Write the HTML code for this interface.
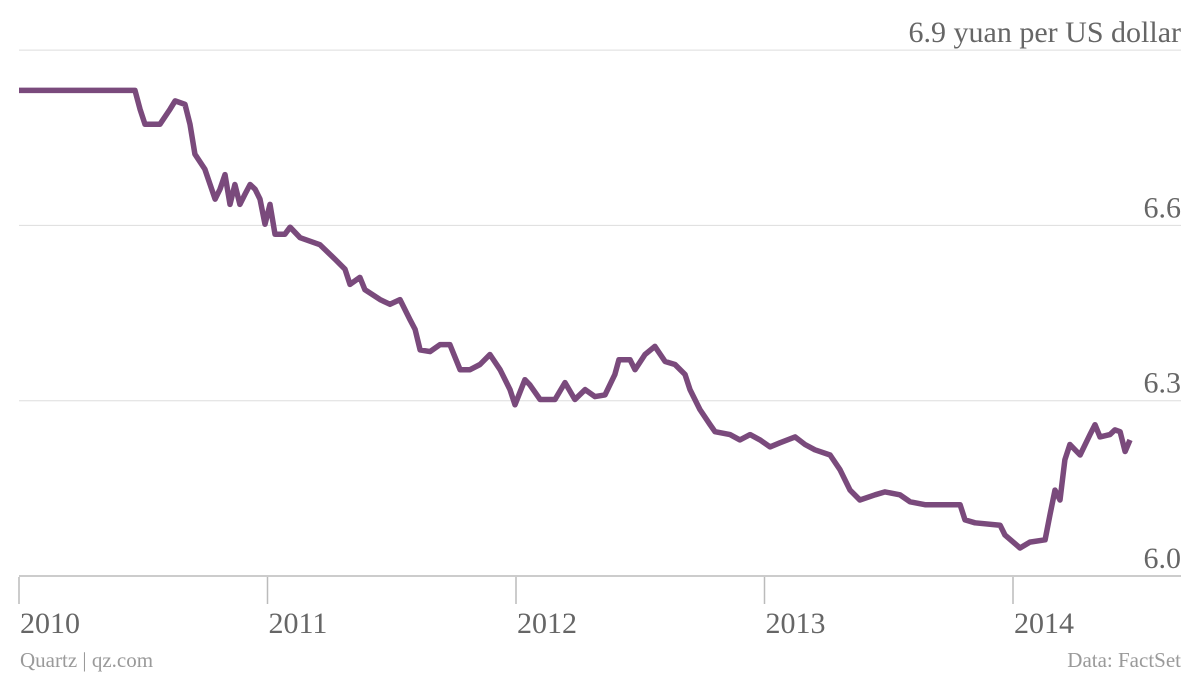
<!DOCTYPE html>
<html><head><meta charset="utf-8"><style>
body{margin:0;background:#fff;}
svg text{font-family:"Liberation Serif",serif;}
</style></head><body>
<svg width="1200" height="676" id="chart">
<g id="grid"></g><g id="xaxis"></g><path id="line" fill="none" stroke="#7a4a7c" stroke-width="5.5" stroke-linejoin="round"/>
<text x="20" y="667" font-size="21" fill="#9a9a9a">Quartz | qz.com</text>
<text x="1181" y="667" font-size="21" fill="#9a9a9a" text-anchor="end">Data: FactSet</text>
</svg>
<script>
const dates=[2010.0,2010.467,2010.487,2010.507,2010.567,2010.608,2010.628,2010.668,2010.688,2010.708,2010.748,2010.769,2010.789,2010.809,2010.829,2010.849,2010.869,2010.889,2010.909,2010.930,2010.950,2010.970,2010.990,2011.010,2011.030,2011.070,2011.091,2011.131,2011.171,2011.211,2011.272,2011.312,2011.332,2011.372,2011.392,2011.453,2011.493,2011.533,2011.573,2011.594,2011.614,2011.654,2011.694,2011.734,2011.775,2011.815,2011.855,2011.895,2011.936,2011.976,2011.996,2012.036,2012.056,2012.097,2012.157,2012.197,2012.237,2012.278,2012.318,2012.358,2012.398,2012.414,2012.459,2012.479,2012.519,2012.559,2012.600,2012.640,2012.680,2012.700,2012.740,2012.781,2012.801,2012.861,2012.901,2012.942,2012.982,2013.022,2013.062,2013.123,2013.163,2013.203,2013.264,2013.304,2013.344,2013.384,2013.445,2013.485,2013.545,2013.586,2013.646,2013.787,2013.807,2013.847,2013.948,2013.968,2014.028,2014.068,2014.129,2014.149,2014.169,2014.189,2014.209,2014.229,2014.270,2014.310,2014.330,2014.350,2014.390,2014.410,2014.431,2014.451,2014.471];
const rates=[6.831,6.831,6.799,6.773,6.773,6.799,6.813,6.807,6.773,6.722,6.696,6.670,6.645,6.662,6.687,6.636,6.670,6.636,6.653,6.670,6.662,6.645,6.602,6.636,6.585,6.585,6.597,6.579,6.573,6.567,6.542,6.525,6.499,6.511,6.490,6.473,6.465,6.473,6.439,6.422,6.387,6.384,6.396,6.396,6.353,6.353,6.362,6.379,6.353,6.319,6.293,6.336,6.327,6.302,6.302,6.331,6.302,6.319,6.307,6.310,6.345,6.370,6.370,6.353,6.379,6.393,6.367,6.362,6.345,6.319,6.285,6.259,6.247,6.242,6.233,6.242,6.233,6.221,6.228,6.238,6.225,6.216,6.207,6.182,6.147,6.130,6.139,6.144,6.139,6.127,6.122,6.122,6.096,6.091,6.087,6.070,6.048,6.058,6.062,6.105,6.147,6.130,6.199,6.225,6.207,6.242,6.259,6.238,6.242,6.250,6.247,6.213,6.233];
const yTicks=[6.0,6.3,6.6,6.9];
const yTickLabels=["6.0","6.3","6.6","6.9 yuan per US dollar"];
const xTicks=[2010,2011,2012,2013,2014];
const X=d=>19+(d-2010)*248.5;
const Y=v=>576-(v-6.0)/0.3*175.3;
const NS="http://www.w3.org/2000/svg";
const grid=document.getElementById('grid'),xa=document.getElementById('xaxis');
yTicks.forEach((t,i)=>{
 const l=document.createElementNS(NS,'line');
 
 
 l.setAttribute('x1',19);l.setAttribute('x2',1181);l.setAttribute('y1',Y(t));l.setAttribute('y2',Y(t));
 l.setAttribute('stroke',i===0?'#bbb':'#ddd');l.setAttribute('stroke-width',i===0?1.5:1);
 grid.appendChild(l);
 const tx=document.createElementNS(NS,'text');
 
 
 tx.setAttribute('x',1181);tx.setAttribute('y',Y(t)-8);tx.setAttribute('text-anchor','end');
 tx.setAttribute('font-size','30');tx.setAttribute('fill','#666');
 tx.textContent=yTickLabels[i];grid.appendChild(tx);
});
xTicks.forEach(t=>{
 const l=document.createElementNS(NS,'line');
 
 
 l.setAttribute('x1',X(t));l.setAttribute('x2',X(t));l.setAttribute('y1',577);l.setAttribute('y2',604);
 l.setAttribute('stroke','#bbb');l.setAttribute('stroke-width',1.5);xa.appendChild(l);
 const tx=document.createElementNS(NS,'text');
 
 
 tx.setAttribute('x',X(t)+1);tx.setAttribute('y',633);tx.setAttribute('font-size','30');tx.setAttribute('fill','#666');
 tx.textContent=t;xa.appendChild(tx);
});
document.getElementById('line').setAttribute('d',dates.map((d,i)=>(i?'L':'M')+X(d).toFixed(1)+','+Y(rates[i]).toFixed(1)).join(''));
</script>
</body></html>
